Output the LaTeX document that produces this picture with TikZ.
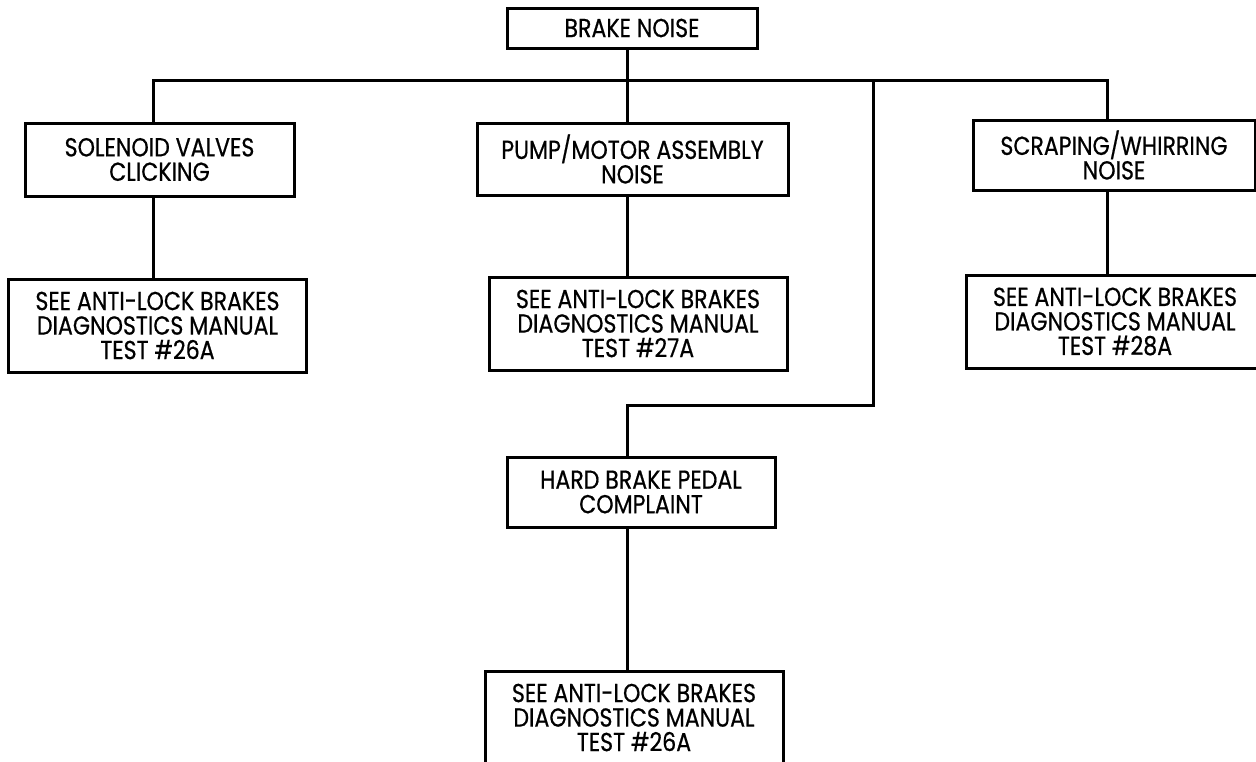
\documentclass[tikz,border=0pt]{standalone}
\usepackage{fontspec}
\setmainfont{Poppins}[FakeStretch=0.85,FakeBold=0.6]
\usetikzlibrary{positioning}
\tikzset{
  box/.style={draw, rectangle, line width=3pt, outer sep=0pt, inner sep=2pt, align=center, font=\fontsize{26}{24.5}\selectfont},
  seebox/.style={box, minimum width=298pt, minimum height=93pt},
  link/.style={line width=3pt},
}
\begin{document}
\begin{tikzpicture}[x=1pt,y=-1pt]
\clip (0,0) rectangle (1256,761);
\fill[white] (0,0) rectangle (1256,761);

\node[box, minimum width=250pt, minimum height=40pt] (noise) at (632,28) {BRAKE NOISE};

\node[box, minimum width=269pt, minimum height=73pt] (solenoid) at (159.5,159.5) {SOLENOID VALVES\\CLICKING};
\node[box, minimum width=311pt, minimum height=72pt] (pump) at (632.5,159) {PUMP/MOTOR ASSEMBLY\\NOISE};
\node[box, minimum width=282pt, minimum height=70pt] (scraping) at (1114,155) {SCRAPING/WHIRRING\\NOISE};

\node[seebox, below=83pt of solenoid, xshift=-2pt] (seeA) {SEE ANTI-LOCK BRAKES\\DIAGNOSTICS MANUAL\\TEST \#26A};
\node[seebox, below=82pt of pump, xshift=5.5pt] (seeB) {SEE ANTI-LOCK BRAKES\\DIAGNOSTICS MANUAL\\TEST \#27A};
\node[seebox, below=85pt of scraping, xshift=1pt] (seeC) {SEE ANTI-LOCK BRAKES\\DIAGNOSTICS MANUAL\\TEST \#28A};

\node[box, minimum width=268pt, minimum height=70pt] (hard) at (641,492) {HARD BRAKE PEDAL\\COMPLAINT};
\node[seebox, below=144pt of hard, xshift=-7pt] (seeD) {SEE ANTI-LOCK BRAKES\\DIAGNOSTICS MANUAL\\TEST \#26A};

% bus and taps
\coordinate (busW) at (153,80);
\coordinate (busE) at (1107,80);
\coordinate (hub) at (627,80);
\coordinate (tap) at (873,80);
\coordinate (knee) at (627,405);

\draw[link] (busW |- solenoid.north) -- (busW) -- (busE) -- (busE |- scraping.north);
\draw[link] (noise.south -| hub) -- (hub |- pump.north);
\draw[link] (busW |- solenoid.south) -- (busW |- seeA.north);
\draw[link] (hub |- pump.south) -- (hub |- seeB.north);
\draw[link] (busE |- scraping.south) -- (busE |- seeC.north);
\draw[link] (tap) |- (knee) -- (knee |- hard.north);
\draw[link] (knee |- hard.south) -- (knee |- seeD.north);

\end{tikzpicture}
\end{document}
